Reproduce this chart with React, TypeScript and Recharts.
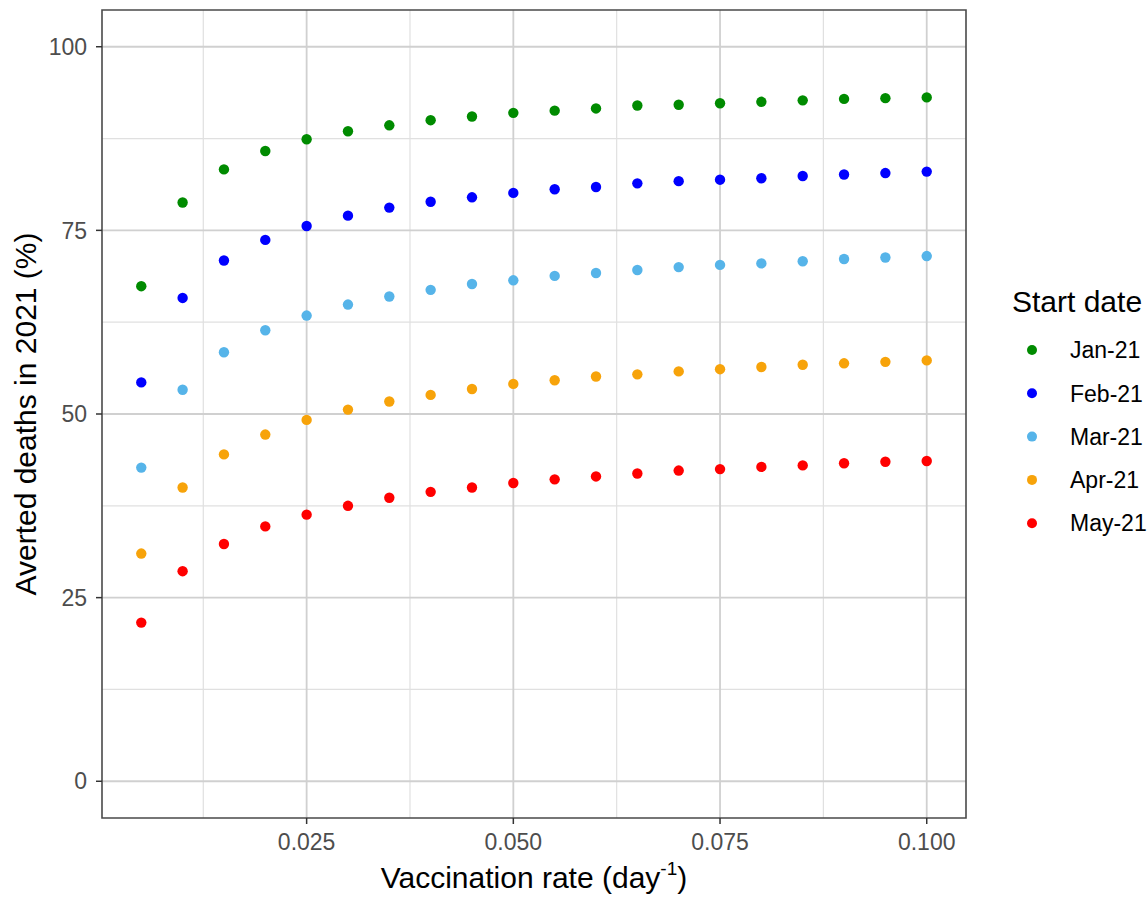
import {
  ScatterChart,
  Scatter,
  XAxis,
  YAxis,
  CartesianGrid,
  ReferenceArea,
} from "recharts";

const FONT = "'Liberation Sans', Arial, sans-serif";

// vaccination rates (day^-1)
const rates = [
  0.005, 0.01, 0.015, 0.02, 0.025, 0.03, 0.035, 0.04, 0.045, 0.05,
  0.055, 0.06, 0.065, 0.07, 0.075, 0.08, 0.085, 0.09, 0.095, 0.1,
];

// averted deaths in 2021 (%), one list per start date
const jan21 = [
  67.4, 78.8, 83.3, 85.8, 87.4, 88.5, 89.3, 90.0, 90.5, 91.0,
  91.3, 91.6, 92.0, 92.1, 92.3, 92.5, 92.7, 92.9, 93.0, 93.1,
];
const feb21 = [
  54.3, 65.8, 70.9, 73.7, 75.6, 77.0, 78.1, 78.9, 79.5, 80.1,
  80.6, 80.9, 81.4, 81.7, 81.9, 82.1, 82.4, 82.6, 82.8, 83.0,
];
const mar21 = [
  42.7, 53.3, 58.4, 61.4, 63.4, 64.9, 66.0, 66.9, 67.7, 68.2,
  68.8, 69.2, 69.6, 70.0, 70.3, 70.5, 70.8, 71.1, 71.3, 71.5,
];
const apr21 = [
  31.0, 40.0, 44.5, 47.2, 49.2, 50.6, 51.7, 52.6, 53.4, 54.1,
  54.6, 55.1, 55.4, 55.8, 56.1, 56.4, 56.7, 56.9, 57.1, 57.3,
];
const may21 = [
  21.6, 28.6, 32.3, 34.7, 36.3, 37.5, 38.6, 39.4, 40.0, 40.6,
  41.1, 41.5, 41.9, 42.3, 42.5, 42.8, 43.0, 43.3, 43.5, 43.6,
];

const seriesNames = ["Jan-21", "Feb-21", "Mar-21", "Apr-21", "May-21"];
const seriesValues = [jan21, feb21, mar21, apr21, may21];
const seriesColors = ["#008B00", "#0000FF", "#56B4E9", "#F7A30A", "#FF0000"];

const xTicks = [0.025, 0.05, 0.075, 0.1];
const xMinor = [0.0125, 0.0375, 0.0625, 0.0875];
const yTicks = [0, 25, 50, 75, 100];
const yMinor = [12.5, 37.5, 62.5, 87.5];

const X_DOMAIN: [number, number] = [0.00025, 0.10475];
const Y_DOMAIN: [number, number] = [-5, 105];

const series = seriesNames.map((name, i) => ({
  name,
  color: seriesColors[i],
  data: rates.map((r, j) => ({ x: r, y: seriesValues[i][j] })),
}));

function XTitle(props: any) {
  const vb = props.viewBox || {};
  const cx = vb.x + vb.width / 2;
  return (
    <text
      x={cx}
      y={vb.y + 70}
      textAnchor="middle"
      fontSize={30}
      fontFamily={FONT}
      fill="#000"
    >
      Vaccination rate (day
      <tspan dy={-13} fontSize={19}>-1</tspan>
      <tspan dy={13}>)</tspan>
    </text>
  );
}

function YTitle(props: any) {
  const vb = props.viewBox || {};
  const cy = vb.y + vb.height / 2;
  return (
    <text
      transform={`translate(36, ${cy}) rotate(-90)`}
      textAnchor="middle"
      fontSize={30}
      fontFamily={FONT}
      fill="#000"
    >
      Averted deaths in 2021 (%)
    </text>
  );
}

function LegendBox() {
  return (
    <svg
      width={168}
      height={290}
      style={{ position: "absolute", left: 980, top: 270 }}
    >
      <text x={32} y={41.7} fontSize={30} fontFamily={FONT} fill="#000">
        Start date
      </text>
      {series.map((s, i) => (
        <g key={s.name}>
          <circle cx={52} cy={80 + i * 43.3} r={5} fill={s.color} />
          <text
            x={90}
            y={80 + i * 43.3}
            dy="0.36em"
            fontSize={23}
            fontFamily={FONT}
            fill="#000"
          >
            {s.name}
          </text>
        </g>
      ))}
    </svg>
  );
}

export default function App() {
  return (
    <div
      style={{
        position: "absolute",
        left: 0,
        top: 0,
        width: 1148,
        height: 903,
        background: "#fff",
        fontFamily: FONT,
      }}
    >
      <ScatterChart
        width={1148}
        height={903}
        margin={{ top: 10, right: 182, bottom: 0, left: 0 }}
      >
        <CartesianGrid
          horizontalValues={yMinor}
          verticalValues={xMinor}
          stroke="#e0e0e0"
          strokeWidth={1.2}
        />
        <CartesianGrid
          horizontalValues={yTicks}
          verticalValues={xTicks}
          stroke="#d0d0d0"
          strokeWidth={1.8}
        />
        <XAxis
          type="number"
          dataKey="x"
          domain={X_DOMAIN}
          ticks={xTicks}
          allowDataOverflow
          height={85}
          tickSize={6}
          tickMargin={10}
          tickFormatter={(v: number) => v.toFixed(3)}
          tick={{ fill: "#4d4d4d", fontSize: 23, fontFamily: FONT }}
          tickLine={{ stroke: "#333", strokeWidth: 1.5 }}
          axisLine={false}
          label={<XTitle />}
        />
        <YAxis
          type="number"
          dataKey="y"
          domain={Y_DOMAIN}
          ticks={yTicks}
          allowDataOverflow
          width={102}
          tickSize={6}
          tickMargin={9}
          tick={{ fill: "#4d4d4d", fontSize: 23, fontFamily: FONT }}
          tickLine={{ stroke: "#333", strokeWidth: 1.5 }}
          axisLine={false}
          label={<YTitle />}
        />
        <ReferenceArea
          x1={X_DOMAIN[0]}
          x2={X_DOMAIN[1]}
          y1={Y_DOMAIN[0]}
          y2={Y_DOMAIN[1]}
          fill="none"
          fillOpacity={0}
          stroke="#4a4a4a"
          strokeWidth={1.6}
        />
        {series.map((s) => (
          <Scatter
            key={s.name}
            name={s.name}
            data={s.data}
            fill={s.color}
            isAnimationActive={false}
            shape={(p: any) => (
              <circle cx={p.cx} cy={p.cy} r={5.2} fill={s.color} />
            )}
          />
        ))}
      </ScatterChart>
      <LegendBox />
    </div>
  );
}
